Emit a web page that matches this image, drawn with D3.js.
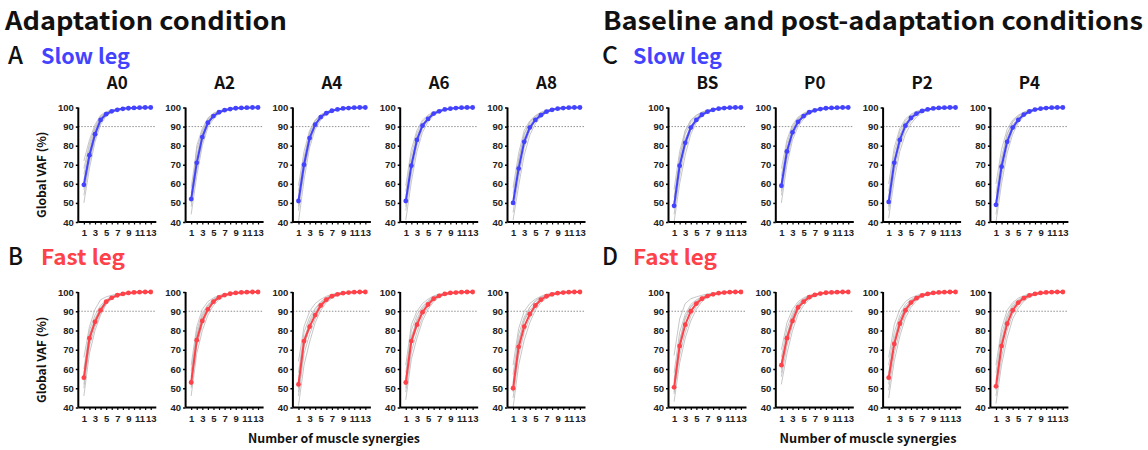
<!DOCTYPE html>
<html><head><meta charset="utf-8">
<script src="https://cdn.jsdelivr.net/npm/d3@7"></script>
<style>html,body{margin:0;padding:0;background:#fff;}svg{display:block;}</style>
</head><body>
<svg id="chart" width="1148" height="450"></svg>
<script>
// ---------- data ----------
const synergies = [1,2,3,4,5,6,7,8,9,10,11,12,13];
const xTickLabels = [1,3,5,7,9,11,13];
const yTicks = [40,50,60,70,80,90,100];
const threshold = 90;
const leftConds = ["A0","A2","A4","A6","A8"];
const rightConds = ["BS","P0","P2","P4"];

// mean Global VAF (%) per condition (order: A0,A2,A4,A6,A8,BS,P0,P2,P4)
const slowMean = [
 [59.5,75,86,93.5,96.5,98,98.8,99.3,99.6,99.8,99.9,100,100],
 [52,71,84.5,92,95.5,97.5,98.6,99.2,99.6,99.8,99.9,100,100],
 [51,70,84,91,95,97,98.3,99,99.5,99.7,99.9,100,100],
 [51,69.5,83,90.5,94,96.8,98,99,99.4,99.7,99.9,100,100],
 [50,68,82,89.5,93.5,96,97.8,98.8,99.4,99.7,99.9,100,100],
 [48.5,69.5,81.5,89.5,93.5,96.2,97.8,98.8,99.4,99.7,99.9,100,100],
 [59,77,87,92.5,95.5,97.5,98.5,99.2,99.6,99.8,99.9,100,100],
 [50.5,71,83,90.5,94.5,96.8,98.2,99,99.5,99.8,99.9,100,100],
 [49,69,82,89.5,93.5,96.3,97.9,98.9,99.4,99.7,99.9,100,100]
];
const fastMean = [
 [55.5,76,84.5,90.5,95,97,98.3,99,99.5,99.8,99.9,100,100],
 [53,75,85,91,95,97.2,98.4,99.1,99.5,99.8,99.9,100,100],
 [52,74.5,82,88,93,96,97.8,98.8,99.4,99.7,99.9,100,100],
 [53,74.5,83,89.5,93.5,96.5,98,99,99.5,99.7,99.9,100,100],
 [50,71.5,82,88.5,93,96,97.8,98.8,99.4,99.7,99.9,100,100],
 [50.5,72,83,90,94,96.5,97.9,98.8,99.4,99.7,99.9,100,100],
 [62,76,85,92,95,97.3,98.5,99.2,99.6,99.8,99.9,100,100],
 [55.5,73,83.5,90.5,94.5,96.8,98.2,99,99.5,99.8,99.9,100,100],
 [51,72,83.5,90.5,94.5,96.8,98.2,99,99.5,99.8,99.9,100,100]
];

// individual participants (grey lines), one string per participant
const slowSubjects = [
 ["50 68 82 91 95.5 97.5 98.6 99.2 99.6 99.8 99.9 100 100","54 71 84 92 96 97.8 98.8 99.3 99.6 99.8 99.9 100 100","57 73 85 93 96.3 98 98.9 99.4 99.7 99.8 99.9 100 100","60 76 87 94 96.8 98.2 99 99.4 99.7 99.8 99.9 100 100","62 77 88 94.5 97 98.3 99 99.5 99.7 99.9 99.9 100 100","65 79 89 95 97.3 98.4 99.1 99.5 99.7 99.9 100 100 100","68 81 90 95.5 97.5 98.5 99.1 99.5 99.8 99.9 100 100 100","72 83 91 96 97.8 98.7 99.2 99.6 99.8 99.9 100 100 100"],
 ["44 64 80 89.5 94 96.8 98.2 99 99.5 99.7 99.9 100 100","48 67 82 91 95 97.3 98.5 99.1 99.5 99.8 99.9 100 100","51 70 84 92 95.5 97.5 98.6 99.2 99.6 99.8 99.9 100 100","53 73 86 93 96 97.8 98.8 99.3 99.6 99.8 99.9 100 100","55 75 87 93.5 96.5 98 98.9 99.4 99.7 99.9 100 100 100","58 78 88 94 96.8 98.2 99 99.4 99.7 99.9 100 100 100","50 80 89 94.5 97 98.3 99 99.5 99.7 99.9 100 100 100"],
 ["40 62 79 88.5 93.5 96.3 97.9 98.8 99.4 99.7 99.9 100 100","46 66 81 90 94.5 96.8 98.2 99 99.5 99.7 99.9 100 100","50 69 83.5 91 95 97 98.3 99 99.5 99.8 99.9 100 100","53 72 85 92 95.5 97.3 98.5 99.1 99.5 99.8 99.9 100 100","56 74 86.5 93 96 97.6 98.6 99.2 99.6 99.8 99.9 100 100","59 77 88 93.5 96.3 97.8 98.8 99.3 99.6 99.8 100 100 100","48 72 87 93 95.8 97.5 98.6 99.2 99.6 99.8 99.9 100 100"],
 ["41 61 77 87 92.5 95.8 97.5 98.6 99.3 99.6 99.8 100 100","46 65 80 89 93.5 96.3 97.8 98.8 99.4 99.7 99.9 100 100","50 69 83 90.5 94 96.8 98 99 99.4 99.7 99.9 100 100","53 72 85 91.5 94.8 97 98.2 99.1 99.5 99.8 99.9 100 100","56 75 86.5 92.5 95.5 97.4 98.5 99.2 99.6 99.8 99.9 100 100","59 78 88 93.5 96 97.7 98.7 99.3 99.6 99.8 100 100 100","48 70 84 91 94.5 97 98.3 99 99.5 99.8 99.9 100 100"],
 ["41 59 75 85.5 91.5 95 97.2 98.5 99.2 99.6 99.8 100 100","45 63 79 88 93 95.8 97.6 98.7 99.3 99.7 99.9 100 100","49 67 82 89.5 93.5 96 97.8 98.8 99.4 99.7 99.9 100 100","52 70 84 91 94.5 96.7 98.1 99 99.5 99.8 99.9 100 100","55 73 86 92 95 97 98.3 99.1 99.5 99.8 99.9 100 100","58 76 88 93 95.8 97.5 98.6 99.2 99.6 99.8 100 100 100","50 72 86 92.5 95.5 97.3 98.5 99.1 99.6 99.8 99.9 100 100"],
 ["40 60 75 86 92 95.3 97.3 98.5 99.2 99.6 99.8 100 100","44 64 79 88 93 95.8 97.6 98.7 99.3 99.7 99.9 100 100","47 68 81 89.5 93.5 96.2 97.8 98.8 99.4 99.7 99.9 100 100","50 71 83.5 90.5 94.3 96.7 98 99 99.4 99.7 99.9 100 100","53 74 86 92 95 97 98.3 99.1 99.5 99.8 99.9 100 100","57 77 88 93 95.8 97.5 98.6 99.2 99.6 99.8 100 100 100","50 73 87.5 93.5 96 97.6 98.6 99.2 99.6 99.8 99.9 100 100"],
 ["50 70 83 90 94 96.7 98 98.9 99.4 99.7 99.9 100 100","54 73 85 91.5 95 97.1 98.3 99 99.5 99.8 99.9 100 100","58 76 87 92.5 95.5 97.5 98.5 99.2 99.6 99.8 99.9 100 100","61 79 88.5 93.5 96.2 97.8 98.7 99.3 99.6 99.8 99.9 100 100","64 81 90 94.5 96.7 98.1 98.9 99.4 99.7 99.9 100 100 100","68 83 91 95 97 98.3 99 99.5 99.7 99.9 100 100 100","56 78 89 94 96.5 97.9 98.8 99.3 99.6 99.8 99.9 100 100"],
 ["42 62 77 86 91.5 95 97.2 98.5 99.2 99.6 99.8 100 100","46 66 80 88.5 93 96 97.8 98.8 99.4 99.7 99.9 100 100","50 70 83 90.5 94.5 96.8 98.2 99 99.5 99.8 99.9 100 100","53 73 85.5 92 95.3 97.3 98.5 99.2 99.6 99.8 99.9 100 100","56 76 87.5 93 96 97.7 98.7 99.3 99.6 99.8 100 100 100","60 79 89 94 96.5 98 98.9 99.4 99.7 99.9 100 100 100","48 72 85 91.5 95 97.2 98.4 99.1 99.5 99.8 99.9 100 100"],
 ["40 60 76 86 92 95.3 97.3 98.5 99.2 99.6 99.8 100 100","44 64 79 88 93 95.8 97.6 98.7 99.3 99.7 99.9 100 100","48 68 82 89.5 93.5 96.2 97.9 98.9 99.4 99.7 99.9 100 100","51 71 84 91 94.5 96.8 98.2 99 99.5 99.8 99.9 100 100","55 74 86 92.5 95.3 97.3 98.5 99.2 99.6 99.8 99.9 100 100","60 78 88.5 93.5 96 97.6 98.7 99.3 99.6 99.8 100 100 100","50 71 86 92.5 95.5 97.4 98.6 99.2 99.6 99.8 99.9 100 100"]
];
const fastSubjects = [
 ["46 68 80 88 93.5 96.3 97.9 98.9 99.4 99.7 99.9 100 100","50 72 82 89 94 96.6 98.1 99 99.5 99.8 99.9 100 100","54 75 84 90.5 94.8 97 98.3 99.1 99.5 99.8 99.9 100 100","57 78 86 91.5 95.3 97.3 98.5 99.2 99.6 99.8 99.9 100 100","60 80 88 93 96 97.7 98.7 99.3 99.6 99.8 100 100 100","66 82 91 96 97.5 98.3 99 99.5 99.7 99.9 100 100 100","52 74 86 92 95.5 97.5 98.6 99.2 99.6 99.8 99.9 100 100"],
 ["46 68 80 88 93 96 97.7 98.8 99.4 99.7 99.9 100 100","50 72 83 90 94.3 96.8 98.2 99 99.5 99.8 99.9 100 100","53 75 85 91 95 97.2 98.4 99.1 99.5 99.8 99.9 100 100","56 78 87 92.5 95.7 97.6 98.6 99.2 99.6 99.8 99.9 100 100","59 80 89 93.5 96.3 97.9 98.8 99.3 99.6 99.8 100 100 100","62 82 91 95 97 98.2 99 99.5 99.7 99.9 100 100 100","51 77 88 93 96 97.8 98.7 99.3 99.6 99.8 99.9 100 100"],
 ["41 62 74 84 90.5 94.5 96.8 98.2 99 99.5 99.8 100 100","46 68 78 86 92 95.3 97.3 98.5 99.2 99.6 99.8 100 100","50 72 81 88 93 96 97.8 98.8 99.4 99.7 99.9 100 100","54 76 84 89.5 94 96.6 98.1 99 99.5 99.8 99.9 100 100","58 79 87 91.5 95 97.2 98.5 99.2 99.6 99.8 99.9 100 100","64 82 90 94 96.2 97.8 98.8 99.4 99.7 99.9 100 100 100","48 73 85 91 94.5 96.8 98.2 99 99.5 99.8 99.9 100 100"],
 ["44 65 76 85 91 95 97.2 98.5 99.2 99.6 99.8 100 100","48 69 79 87 92.3 95.7 97.6 98.7 99.3 99.7 99.9 100 100","52 73 82 89 93.5 96.4 98 98.9 99.4 99.7 99.9 100 100","55 77 85 91 94.5 97 98.3 99.1 99.5 99.8 99.9 100 100","58 80 88 92.5 95.5 97.5 98.6 99.2 99.6 99.8 99.9 100 100","62 83 90 94 96.3 98 98.9 99.4 99.7 99.9 100 100 100","50 75 86 91.5 95 97.2 98.5 99.2 99.6 99.8 99.9 100 100"],
 ["40 62 75 84 90.5 94.5 96.8 98.2 99 99.5 99.8 100 100","45 67 79 86.5 92 95.3 97.3 98.5 99.2 99.6 99.8 100 100","49 71 82 88.5 93 96 97.8 98.8 99.4 99.7 99.9 100 100","53 75 85 90.5 94 96.6 98.1 99 99.5 99.8 99.9 100 100","57 78 87 92 95 97.2 98.5 99.2 99.6 99.8 99.9 100 100","62 81 90 94 96.3 97.8 98.8 99.4 99.7 99.9 100 100 100","48 73 85.5 92 95.5 97.4 98.5 99.2 99.6 99.8 99.9 100 100"],
 ["43 63 76 85 91 95 97.2 98.5 99.2 99.6 99.8 100 100","47 67 79 87.5 92.5 95.8 97.6 98.7 99.3 99.7 99.9 100 100","50 71 83 90 94 96.5 98 98.9 99.4 99.7 99.9 100 100","54 75 86 92 95 97 98.3 99.1 99.5 99.8 99.9 100 100","58 79 88.5 93.5 96 97.5 98.6 99.2 99.6 99.8 99.9 100 100","67 86 94 96.5 97.5 98.3 99 99.5 99.7 99.9 100 100 100","48 74 87 92.5 95.3 97.2 98.4 99.1 99.5 99.8 99.9 100 100"],
 ["52 68 80 88.5 93 96.2 97.8 98.8 99.4 99.7 99.9 100 100","56 72 83 90.5 94.3 96.8 98.2 99 99.5 99.8 99.9 100 100","60 75 85 92 95 97.3 98.5 99.2 99.6 99.8 99.9 100 100","63 78 87 93 95.8 97.7 98.7 99.3 99.6 99.8 99.9 100 100","66 81 89 94 96.5 98 98.9 99.4 99.7 99.9 100 100 100","70 84 91 95 97 98.3 99 99.5 99.7 99.9 100 100 100","58 77 87.5 93.5 96 97.8 98.8 99.3 99.6 99.8 99.9 100 100"],
 ["45 64 77 86.5 92 95.5 97.5 98.6 99.3 99.6 99.8 100 100","49 68 80 88.5 93.3 96.2 97.9 98.8 99.4 99.7 99.9 100 100","54 72 83 90.5 94.5 96.8 98.2 99 99.5 99.8 99.9 100 100","58 76 86 92 95.3 97.3 98.5 99.2 99.6 99.8 99.9 100 100","62 79 88 93.5 96 97.7 98.7 99.3 99.6 99.8 100 100 100","66 83 91 95 97 98.2 99 99.5 99.7 99.9 100 100 100","52 74 86 92 95.5 97.5 98.6 99.2 99.6 99.8 99.9 100 100"],
 ["42 62 76 86 91.5 95.2 97.3 98.5 99.2 99.6 99.8 100 100","46 66 80 88.5 93 96 97.8 98.8 99.4 99.7 99.9 100 100","50 71 83 90.5 94.5 96.8 98.2 99 99.5 99.8 99.9 100 100","54 75 86 92 95.3 97.3 98.5 99.2 99.6 99.8 99.9 100 100","58 78 88 93.5 96 97.7 98.7 99.3 99.6 99.8 100 100 100","62 81 90.5 94.5 96.8 98.1 99 99.4 99.7 99.9 100 100 100","49 73 86.5 92.5 95.5 97.4 98.5 99.2 99.6 99.8 99.9 100 100"]
];

// ---------- drawing ----------
const svg = d3.select("#chart");
const FONT = "'Noto Sans CJK JP','Noto Sans',sans-serif";
const TICKFONT = "'Liberation Sans',Arial,sans-serif";
const BLUE = "#4343ff", RED = "#ff4149";

const panelW = 78, stepX = 107.3;
const leftX0 = 78.3, rightX0 = 668.5;
const rows = [{top:107.5, bottom:222, name:"slow"}, {top:292, bottom:407.5, name:"fast"}];

function txt(x, y, s, size, opts={}) {
  const t = svg.append("text").attr("x", x).attr("y", y).text(s)
    .attr("font-family", opts.family || FONT)
    .attr("font-size", size)
    .attr("font-weight", opts.weight || "bold")
    .attr("fill", opts.fill || "#111")
    .attr("text-anchor", opts.anchor || "start");
  if (opts.len) t.attr("textLength", opts.len).attr("lengthAdjust", "spacingAndGlyphs");
  return t;
}

// headings
txt(5, 30, "Adaptation condition", 25, {len: 282});
txt(603, 30, "Baseline and post-adaptation conditions", 25, {len: 540});
txt(8, 64, "A", 24, {weight: "500", len: 15});
txt(41, 64, "Slow leg", 21, {fill: BLUE, len: 89});
txt(8, 265, "B", 24, {weight: "500", len: 15});
txt(41, 265, "Fast leg", 21, {fill: RED, len: 84});
txt(602, 64, "C", 24, {weight: "500", len: 16});
txt(633, 64, "Slow leg", 21, {fill: BLUE, len: 89});
txt(602, 265, "D", 24, {weight: "500", len: 16});
txt(633, 265, "Fast leg", 21, {fill: RED, len: 84});

function drawPanel(x0, row, means, subjects, color, title, yLabel) {
  const x = d3.scaleLinear().domain([0, 14]).range([x0, x0 + panelW]);
  const y = d3.scaleLinear().domain([40, 100]).range([row.bottom, row.top]);
  const g = svg.append("g");

  if (title) txt((x0 + x0 + panelW) / 2, 89, title, 17, {anchor: "middle"});

  // threshold
  g.append("line").attr("x1", x(0)).attr("x2", x(14))
    .attr("y1", y(threshold)).attr("y2", y(threshold))
    .attr("stroke", "#777").attr("stroke-width", 0.8).attr("stroke-dasharray", "1.5,1.5");

  const line = d3.line().x((d, i) => x(synergies[i])).y(d => y(d));
  // subjects
  subjects.forEach(s => {
    const vals = s.split(" ").map(Number);
    g.append("path").attr("d", line(vals)).attr("fill", "none")
      .attr("stroke", "#b9b9b9").attr("stroke-width", 0.8);
  });
  // mean
  g.append("path").attr("d", line(means)).attr("fill", "none")
    .attr("stroke", color).attr("stroke-width", 2);
  g.selectAll("circle.m").data(means).enter().append("circle")
    .attr("cx", (d, i) => x(synergies[i])).attr("cy", d => y(d))
    .attr("r", 2.4).attr("fill", color);

  // axes
  const ya = g.append("g").attr("transform", `translate(${x0},0)`)
    .call(d3.axisLeft(y).tickValues(yTicks).tickSize(2.5).tickPadding(2));
  ya.select(".domain").attr("stroke", "#000").attr("stroke-width", 2).attr("d", `M0,${row.bottom}V${row.top}`);
  ya.selectAll(".tick line").attr("stroke", "#000").attr("stroke-width", 1.5);
  ya.selectAll("text").attr("font-family", TICKFONT).attr("font-size", 9.5).attr("font-weight", "bold").attr("fill", "#222");

  const xa = g.append("g").attr("transform", `translate(0,${row.bottom})`)
    .call(d3.axisBottom(x).tickValues(synergies).tickSize(2.5).tickPadding(5)
      .tickFormat(d => xTickLabels.includes(d) ? d : ""));
  xa.select(".domain").attr("stroke", "#000").attr("stroke-width", 2).attr("d", `M${x0},0H${x0 + panelW}`);
  xa.selectAll(".tick line").attr("stroke", "#000").attr("stroke-width", 1.2);
  xa.selectAll("text").attr("font-family", TICKFONT).attr("font-size", 9.5).attr("font-weight", "bold").attr("fill", "#222");

  if (yLabel) {
    svg.append("text").attr("transform", `translate(46,${(row.top + row.bottom) / 2 + 10}) rotate(-90)`)
      .attr("text-anchor", "middle").attr("font-family", FONT).attr("font-size", 12)
      .attr("font-weight", "bold").attr("fill", "#111")
      .text("Global VAF (%)");
  }
}

rows.forEach((row, r) => {
  const means = r === 0 ? slowMean : fastMean;
  const subs = r === 0 ? slowSubjects : fastSubjects;
  const color = r === 0 ? BLUE : RED;
  leftConds.forEach((c, i) => {
    drawPanel(leftX0 + i * stepX, row, means[i], subs[i], color, r === 0 ? c : null, i === 0);
  });
  rightConds.forEach((c, j) => {
    const k = leftConds.length + j;
    drawPanel(rightX0 + j * stepX, row, means[k], subs[k], color, r === 0 ? c : null, false);
  });
});

txt(334, 443, "Number of muscle synergies", 12.5, {anchor: "middle", len: 172});
txt(868, 443, "Number of muscle synergies", 12.5, {anchor: "middle", len: 177});
</script>
</body></html>
